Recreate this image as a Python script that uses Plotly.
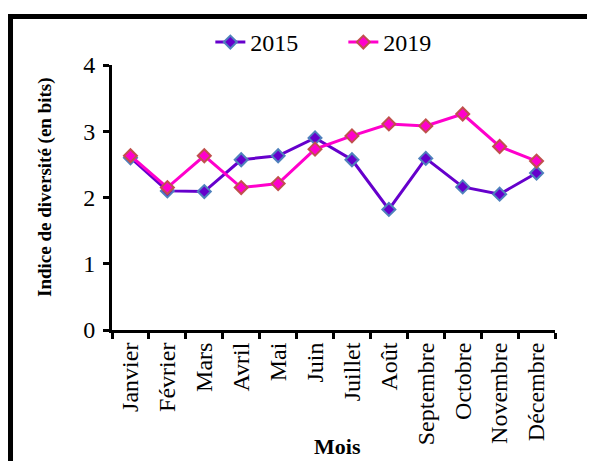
import plotly.graph_objects as go

mois = ['Janvier', 'Février', 'Mars', 'Avril', 'Mai', 'Juin', 'Juillet',
        'Août', 'Septembre', 'Octobre', 'Novembre', 'Décembre']
indice_2015 = [2.60, 2.10, 2.09, 2.57, 2.63, 2.90, 2.57, 1.82, 2.59, 2.16, 2.05, 2.37]
indice_2019 = [2.63, 2.15, 2.63, 2.15, 2.21, 2.73, 2.93, 3.11, 3.08, 3.26, 2.77, 2.55]
y_ticks = [0, 1, 2, 3, 4]

FONT = 'Liberation Serif'

fig = go.Figure()
fig.add_trace(go.Scatter(x=mois, y=indice_2015, name='2015', mode='lines+markers',
                         line=dict(color='#6600CC', width=3),
                         marker=dict(symbol='diamond', size=10, color='#6600CC',
                                     line=dict(color='#4F81BD', width=2))))
fig.add_trace(go.Scatter(x=mois, y=indice_2019, name='2019', mode='lines+markers',
                         line=dict(color='#FF00CC', width=3),
                         marker=dict(symbol='diamond', size=10, color='#FF00CC',
                                     line=dict(color='#C0504D', width=2))))

# page body adds an 8px offset, so margins are shifted by -8 here
fig.update_layout(
    width=595, height=461,
    margin=dict(l=104, r=48, t=52, b=139),
    paper_bgcolor='white', plot_bgcolor='white',
    font=dict(family=FONT, color='black', size=22),
    showlegend=True,
    legend=dict(orientation='h', x=0.222, y=1.085, xanchor='left', yanchor='middle',
                entrywidth=88, entrywidthmode='pixels',
                font=dict(size=24, family=FONT), bgcolor='rgba(0,0,0,0)'),
    xaxis=dict(type='category', range=[-0.5, 11.5], tickangle=-90,
               showline=True, linecolor='black', linewidth=3,
               ticks='outside', tickson='boundaries', ticklen=6, tickwidth=3, tickcolor='black',
               showgrid=False, zeroline=False, tickfont=dict(size=24, family=FONT)),
    yaxis=dict(range=[0, 4], tickvals=y_ticks,
               showline=True, linecolor='black', linewidth=3,
               ticks='outside', ticklen=6, tickwidth=3, tickcolor='black',
               ticklabelstandoff=3,
               showgrid=False, zeroline=False, tickfont=dict(size=24, family=FONT)),
    annotations=[
        dict(text='<b>Indice de diversité (en bits)</b>', xref='paper', yref='paper',
             x=-0.151, y=0.54, textangle=-90, showarrow=False,
             font=dict(size=19, family=FONT), xanchor='center', yanchor='middle'),
        dict(text='<b>Mois</b>', xref='paper', yref='paper', x=0.51, y=-0.44,
             showarrow=False, font=dict(size=22, family=FONT),
             xanchor='center', yanchor='middle'),
    ],
    shapes=[dict(type='rect', xref='paper', yref='paper',
                 x0=-0.2291, x1=1.15, y0=-0.56, y1=1.1833,
                 line=dict(color='black', width=5), fillcolor='rgba(0,0,0,0)',
                 layer='below')],
)

fig.write_html('out.html')
